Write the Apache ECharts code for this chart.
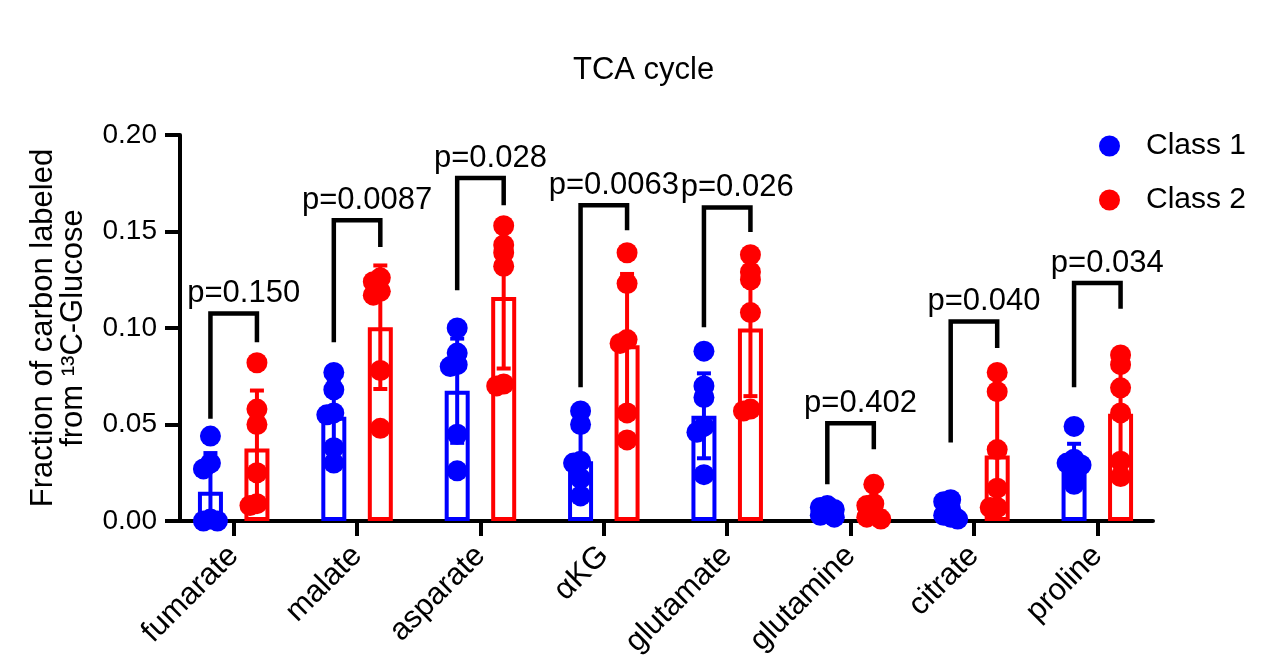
<!DOCTYPE html>
<html><head><meta charset="utf-8">
<script src="https://cdn.jsdelivr.net/npm/echarts@6/dist/echarts.min.js"></script>
<style>html,body{margin:0;padding:0;background:#fff}#c{width:1272px;height:672px}</style>
</head><body><div id="c"></div>
<script>
// ---------- data ----------
const categories = ['fumarate', 'malate', 'asparate', 'αKG', 'glutamate', 'glutamine', 'citrate', 'proline'];
const class1Mean = [0.0152, 0.054, 0.0675, 0.031, 0.0545, 0.005, 0.005, 0.030];
const class1SD   = [0.020, 0.018, 0.027, 0.016, 0.022, 0.002, 0.004, 0.010];
const class2Mean = [0.0376, 0.1004, 0.116, 0.091, 0.0997, 0.006, 0.034, 0.0556];
const class2SD   = [0.030, 0.032, 0.037, 0.037, 0.035, 0.006, 0.030, 0.026];
const class1Points = [
  [0.044, 0.030, 0.027, 0.001, 0.000, 0.000],
  [0.077, 0.068, 0.056, 0.055, 0.038, 0.030],
  [0.100, 0.087, 0.081, 0.080, 0.045, 0.026],
  [0.057, 0.050, 0.031, 0.030, 0.022, 0.013],
  [0.088, 0.070, 0.064, 0.049, 0.046, 0.024],
  [0.008, 0.007, 0.006, 0.004, 0.003, 0.002],
  [0.011, 0.010, 0.006, 0.003, 0.002, 0.001],
  [0.049, 0.032, 0.030, 0.029, 0.023, 0.019]
];
const class2Points = [
  [0.082, 0.058, 0.050, 0.025, 0.009, 0.008],
  [0.126, 0.124, 0.119, 0.117, 0.078, 0.048],
  [0.153, 0.143, 0.139, 0.132, 0.071, 0.070],
  [0.139, 0.123, 0.094, 0.092, 0.056, 0.042],
  [0.138, 0.129, 0.125, 0.108, 0.058, 0.057],
  [0.019, 0.009, 0.008, 0.004, 0.002, 0.001],
  [0.077, 0.067, 0.037, 0.017, 0.007, 0.007],
  [0.086, 0.081, 0.069, 0.056, 0.031, 0.023]
];
const bracketTop      = [0.1075, 0.1558, 0.1777, 0.1636, 0.1624, 0.0506, 0.1034, 0.1233];
const bracketLeftEnd  = [0.053, 0.0926, 0.1195, 0.0693, 0.1004, 0.019, 0.0407, 0.0693];
const bracketRightEnd = [0.0926, 0.142, 0.1636, 0.1506, 0.1498, 0.0372, 0.0897, 0.110];
const pValues = ['p=0.150', 'p=0.0087', 'p=0.028', 'p=0.0063', 'p=0.026', 'p=0.402', 'p=0.040', 'p=0.034'];
const yMin = 0, yMax = 0.20, yStep = 0.05;

// ---------- style ----------
const FONT = 'Liberation Sans, Arial, Helvetica, sans-serif';
const BLUE = '#0000ff', RED = '#ff0000';
const BAR_W = 25, BAR_GAP_PX = 21.5;
const BAR_OFFSET = (BAR_W + BAR_GAP_PX) / 2;
const DOT_R = 10.5, MIN_DIST = 7, STEP = 7, CAP = 7;
const LINE_W = 4;

function swarm(ys) {
  const placed = [], offs = [];
  ys.forEach(function (y) {
    let chosen = 0;
    for (let n = 0; n < 14; n++) {
      const cand = n === 0 ? 0 : (n % 2 === 1 ? -1 : 1) * Math.ceil(n / 2) * STEP;
      if (placed.every(function (p) { return Math.hypot(p[0] - cand, p[1] - y) >= MIN_DIST; })) { chosen = cand; break; }
    }
    placed.push([chosen, y]); offs.push(chosen);
  });
  return offs;
}

function barSeries(name, color, means) {
  return {
    type: 'bar', name: name, xAxisIndex: 1, yAxisIndex: 1, z: 1,
    barWidth: BAR_W, barGap: (BAR_GAP_PX / BAR_W * 100) + '%',
    itemStyle: { color: '#fff', borderColor: color, borderWidth: LINE_W },
    emphasis: { disabled: true },
    data: means
  };
}
function errorSeries(name, color, means, sds, sign) {
  return {
    type: 'custom', name: name, xAxisIndex: 1, yAxisIndex: 1, z: 3,
    data: means.map(function (m, i) { return [i, m, sds[i]]; }),
    renderItem: function (params, api) {
      const i = api.value(0), m = api.value(1), sd = api.value(2);
      const x = api.coord([i, m])[0] + sign * BAR_OFFSET;
      const yT = api.coord([i, m + sd])[1];
      const low = Math.max(0, m - sd);
      const yB = api.coord([i, low])[1];
      const st = { stroke: color, lineWidth: LINE_W };
      const ch = [
        { type: 'line', shape: { x1: x, y1: yT, x2: x, y2: yB }, style: st },
        { type: 'line', shape: { x1: x - CAP, y1: yT, x2: x + CAP, y2: yT }, style: st }
      ];
      if (m - sd > 0) ch.push({ type: 'line', shape: { x1: x - CAP, y1: yB, x2: x + CAP, y2: yB }, style: st });
      return { type: 'group', children: ch };
    }
  };
}
function pointSeries(name, color, pts, sign) {
  const data = [];
  pts.forEach(function (arr, i) { arr.forEach(function (v, k) { data.push([i, v, k]); }); });
  return {
    type: 'custom', name: name, xAxisIndex: 1, yAxisIndex: 1, z: 5,
    itemStyle: { color: color },
    data: data,
    renderItem: function (params, api) {
      const i = api.value(0), k = api.value(2);
      const c = api.coord([i, api.value(1)]);
      const ys = pts[i].map(function (v) { return api.coord([i, v])[1]; });
      const offs = swarm(ys);
      return { type: 'circle', shape: { cx: c[0] + sign * BAR_OFFSET + offs[k], cy: c[1], r: DOT_R }, style: { fill: color } };
    }
  };
}

const chart = echarts.init(document.getElementById('c'), null, { renderer: 'canvas' });
const legendCommon = {
  orient: 'vertical', left: 1094, itemWidth: 21, itemHeight: 21, icon: 'circle',
  selectedMode: false,
  textStyle: { fontSize: 30, color: '#000', fontFamily: FONT, padding: [0, 0, 0, 21] }
};
chart.setOption({
  backgroundColor: '#fff',
  animation: false,
  title: {
    text: 'TCA cycle', left: 573, top: 55, padding: 0,
    textStyle: { fontSize: 31, fontWeight: 'normal', color: '#000', fontFamily: FONT }
  },
  legend: [
    Object.assign({}, legendCommon, { data: ['Class 1'], top: 126 }),
    Object.assign({}, legendCommon, { data: ['Class 2'], top: 180 })
  ],
  grid: [
    { left: 180, right: 119, top: 135, bottom: 151 },
    { left: 172, right: 113, top: 135, bottom: 151 }
  ],
  xAxis: [
    { type: 'value', gridIndex: 0, min: 0, max: 1,
      axisLine: { show: true, lineStyle: { color: '#000', width: LINE_W } },
      axisTick: { show: false }, axisLabel: { show: false }, splitLine: { show: false } },
    { type: 'category', gridIndex: 1, data: categories,
      axisLine: { show: false },
      axisTick: { show: true, alignWithLabel: true, length: 15, lineStyle: { color: '#000', width: LINE_W } },
      axisLabel: { rotate: 45, margin: 30, fontSize: 31, color: '#000', fontFamily: FONT, interval: 0 },
      splitLine: { show: false } }
  ],
  yAxis: [
    { type: 'value', gridIndex: 0, min: yMin, max: yMax, interval: yStep,
      name: 'Fraction of carbon labeled\nfrom ¹³C-Glucose',
      nameLocation: 'middle', nameRotate: 90, nameGap: 92,
      nameTextStyle: { fontSize: 31, lineHeight: 30, color: '#000', fontFamily: FONT },
      axisLine: { show: true, lineStyle: { color: '#000', width: LINE_W } },
      axisTick: { show: true, length: 15, lineStyle: { color: '#000', width: LINE_W } },
      axisLabel: { margin: 23, fontSize: 28, color: '#000', fontFamily: FONT,
        formatter: function (v) { return v.toFixed(2); } },
      splitLine: { show: false } },
    { type: 'value', gridIndex: 1, min: yMin, max: yMax, interval: yStep, show: false, splitLine: { show: false } }
  ],
  series: [
    barSeries('Class 1 mean', BLUE, class1Mean),
    barSeries('Class 2 mean', RED, class2Mean),
    errorSeries('Class 1 SD', BLUE, class1Mean, class1SD, -1),
    errorSeries('Class 2 SD', RED, class2Mean, class2SD, 1),
    pointSeries('Class 1', BLUE, class1Points, -1),
    pointSeries('Class 2', RED, class2Points, 1),
    {
      type: 'custom', name: 'p-values', xAxisIndex: 1, yAxisIndex: 1, z: 4,
      data: categories.map(function (c, i) { return [i, bracketTop[i], bracketLeftEnd[i], bracketRightEnd[i]]; }),
      renderItem: function (params, api) {
        const i = api.value(0);
        const cx = api.coord([i, 0])[0];
        const xl = cx - BAR_OFFSET, xr = cx + BAR_OFFSET;
        const yt = api.coord([i, api.value(1)])[1];
        const yl = api.coord([i, api.value(2)])[1];
        const yr = api.coord([i, api.value(3)])[1];
        return { type: 'group', children: [
          { type: 'polyline', shape: { points: [[xl, yl], [xl, yt], [xr, yt], [xr, yr]] },
            style: { stroke: '#000', lineWidth: 4.5, fill: null, lineJoin: 'miter' } },
          { type: 'text', x: cx + 10, y: yt - 20,
            style: { text: pValues[i], fill: '#000', fontSize: 31, fontFamily: FONT, align: 'center', verticalAlign: 'middle' } }
        ] };
      }
    }
  ]
});
</script></body></html>
